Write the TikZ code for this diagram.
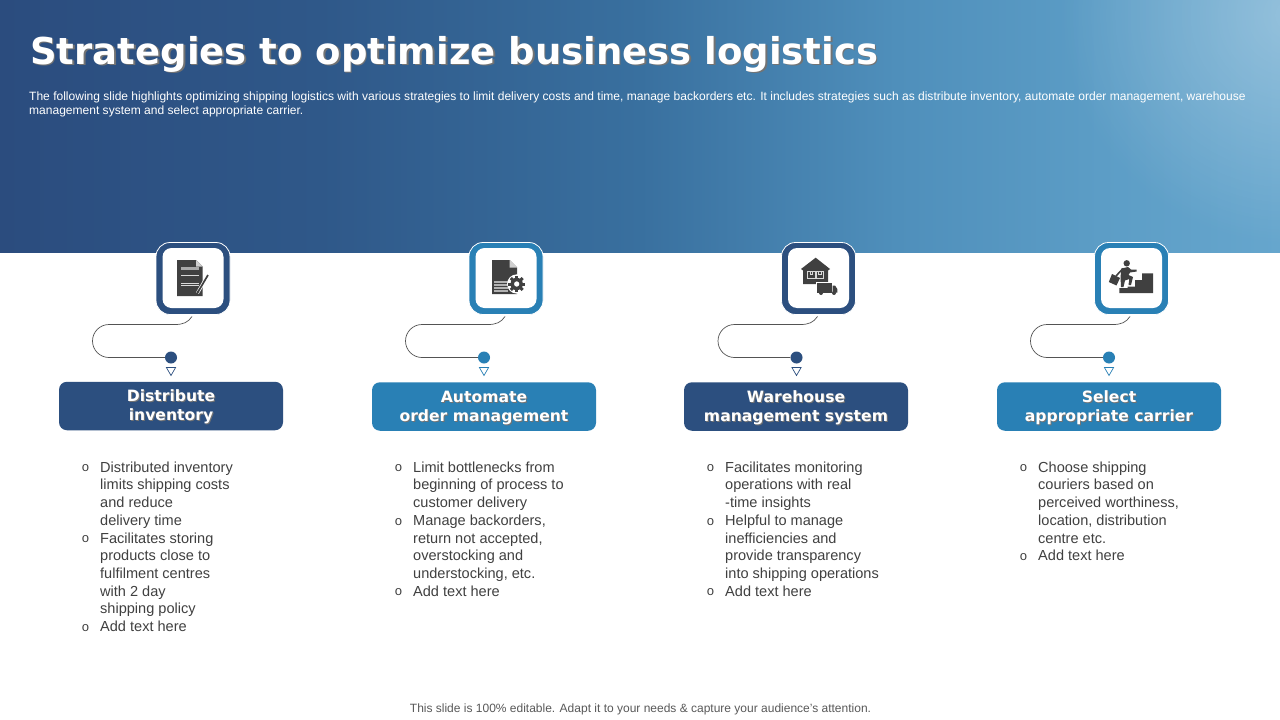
\documentclass[tikz,border=0pt]{standalone}
\usepackage{fontspec}
\setmainfont{Liberation Sans}
\newfontfamily\headfont{DejaVu Sans}[BoldFont={DejaVu Sans Bold}]
\newfontfamily\monofnt{Liberation Mono}
\usetikzlibrary{fadings,calc}
\definecolor{navy}{HTML}{2C4F7F}
\definecolor{teal}{HTML}{2980B5}
\definecolor{ink}{HTML}{404040}
\definecolor{bodytext}{HTML}{404040}
\definecolor{foot}{HTML}{595959}
\definecolor{hA}{HTML}{2B4C7E}
\definecolor{hB}{HTML}{2F5889}
\definecolor{hC}{HTML}{39709F}
\definecolor{hD}{HTML}{4F8FBB}
\definecolor{hE}{HTML}{5C9DC6}
\definecolor{hF}{HTML}{66A6CD}
\pgfdeclarehorizontalshading{hdrshade}{100bp}{
 color(0bp)=(hA); color(25bp)=(hA); color(37.5bp)=(hB); color(50bp)=(hC);
 color(60bp)=(hD); color(68bp)=(hE); color(75bp)=(hF); color(100bp)=(hF)}
\tikzfading[name=glowfade, inner color=transparent!70, outer color=transparent!100]
\newcommand\shtext[2]{\leavevmode\rlap{\kern#1\raisebox{-#1}{\color{black!55}\smash{#2}}}#2}
\newcommand\cardtwo[2]{\rule{0pt}{15pt}\shtext{1pt}{#1}\\\shtext{1pt}{#2}\rule[-4.4pt]{0pt}{0pt}}
\newcommand\bl{\leavevmode\llap{\makebox[18.6pt][l]{\raisebox{.3pt}{\monofnt\fontsize{13}{13}\selectfont o}}}}
\tikzset{
 x=1pt,y=-1pt,
 tile/.style={draw=white,line width=.8pt,rounded corners=14pt,minimum width=74pt,minimum height=72pt,inner sep=0pt},
 tilein/.style={fill=white,rounded corners=9pt,minimum width=61pt,minimum height=60pt,inner sep=0pt},
 card/.style={rounded corners=8pt,minimum width=224pt,minimum height=48.5pt,inner sep=0pt,text=white,align=center,
   font=\headfont\bfseries\fontsize{15.6}{19.3}\selectfont},
 dotn/.style={circle,minimum size=12pt,inner sep=0pt},
 wire/.style={draw=ink!90,line width=.7pt},
 bodyn/.style={anchor=north west,align=left,inner sep=0pt,text=bodytext,font=\fontsize{14.55}{17.7}\selectfont},
 iconf/.style={fill=ink,draw=none},
}
\begin{document}
\begin{tikzpicture}
\useasboundingbox (0,0) rectangle (1280,720);
\fill[white] (0,0) rectangle (1280,720);
\begin{scope}
\clip (0,0) rectangle (1280,252.7);
\shade[shading=hdrshade] (0,0) rectangle (1280,252.7);
\fill[white,path fading=glowfade] (1290,15) circle (230);
\end{scope}
\node[anchor=base west,inner sep=0pt,text=white,font=\headfont\bfseries\fontsize{37}{40}\selectfont] (title) at (30,64) {\shtext{1.6pt}{Strategies to optimize business logistics}};
\node[anchor=north west,inner sep=0pt,text=white,align=left,font=\fontsize{12.03}{14}\selectfont] (desc) at (29,92) {The following slide highlights optimizing shipping logistics with various strategies to limit delivery costs and time, manage backorders etc. It includes strategies such as distribute inventory, automate order management, warehouse\\management system and select appropriate carrier.};
%
\foreach \n/\tx/\dx/\colr in {a/193/171/navy,b/506/484/teal,c/818.5/796.5/navy,d/1131.5/1109/teal}{
  \node[tile,fill=\colr] (tile\n) at (\tx,278.5) {};
  \node[tilein] (inner\n) at (\tx,278) {};
  \node[dotn,fill=\colr] (dot\n) at (\dx,357.5) {};
  \coordinate (start\n) at ($(\dx,357.5)+(21,-41)$);
  \draw[wire] (start\n) .. controls ($(start\n)+(-4,6)$) and ($(start\n)+(-9,8)$) .. ($(start\n)+(-17,8)$)
     -- ($(start\n)+(-83,8)$) arc[start angle=-90,end angle=-270,radius=16.5]
     -- (dot\n);
  \coordinate (tc\n) at (\dx,367.5);
  \draw[\colr,fill=white,line width=.7pt] ($(tc\n)+(-4.6,0)$) -- ($(tc\n)+(4.6,0)$) -- ($(tc\n)+(0,8)$) -- cycle;
}
\node[card,fill=navy] (carda) at (171,406) {\cardtwo{Distribute}{inventory}};
\node[card,fill=teal] (cardb) at (484,406.5) {\cardtwo{Automate}{order management}};
\node[card,fill=navy] (cardc) at (796,406.5) {\cardtwo{Warehouse}{management system}};
\node[card,fill=teal] (cardd) at (1109,406.5) {\cardtwo{Select}{appropriate carrier}};
%
\node[bodyn] (lista) at (100,461.5) {\bl Distributed inventory\\limits shipping costs\\and reduce\\delivery time\\\bl Facilitates storing\\products close to\\fulfilment centres\\with 2 day\\shipping policy\\\bl Add text here};
\node[bodyn] (listb) at (413,461.5) {\bl Limit bottlenecks from\\beginning of process to\\customer delivery\\\bl Manage backorders,\\return not accepted,\\overstocking and\\understocking, etc.\\\bl Add text here};
\node[bodyn] (listc) at (725,461.5) {\bl Facilitates monitoring\\operations with real\\-time insights\\\bl Helpful to manage\\inefficiencies and\\provide transparency\\into shipping operations\\\bl Add text here};
\node[bodyn] (listd) at (1038,461.5) {\bl Choose shipping\\couriers based on\\perceived worthiness,\\location, distribution\\centre etc.\\\bl Add text here};
\node[inner sep=0pt,text=foot,font=\fontsize{12}{14}\selectfont] (footer) at (640.5,709.5) {This slide is 100\% editable. Adapt it to your needs \& capture your audience’s attention.};
%
% icon 1
\fill[iconf] (177,260) -- (196,260) -- (202.7,266.5) -- (202.7,296) -- (177,296) -- cycle;
\fill[white!75!ink] (196,260) -- (202.7,266.5) -- (196,266.5) -- cycle;
\fill[white!55!ink] (181,267) rectangle (199,270);
\foreach \yy in {275,283,285.5}{\draw[white!80!ink,line width=.6pt] (181,\yy) -- (199,\yy);}
\draw[white,line width=3.2pt] (208,275) -- (197.5,293);
\draw[ink,line width=1.7pt] (208,275) -- (198,292);
\fill[ink] (196.6,294.6) -- (197,290.5) -- (199.6,292) -- cycle;
% icon 2
\fill[iconf] (492,260) -- (509.5,260) -- (517,267.5) -- (517,294) -- (492,294) -- cycle;
\fill[white!75!ink] (509.5,260) -- (517,267.5) -- (509.5,267.5) -- cycle;
\foreach \yy in {282,285,288,291}{\draw[white!60!ink,line width=1.3pt] (494,\yy) -- (508,\yy);}
\fill[white] (516.7,284) circle (9.6);
\foreach \aa in {0,45,...,315}{\fill[ink,rotate around={\aa:(516.7,284)}] (515.2,275.6) rectangle (518.2,278.5);}
\fill[ink,even odd rule] (516.7,284) circle (6.2) (516.7,284) circle (2.8);
% icon 3
\fill[iconf] (815.7,257.7) -- (830,269) -- (828,270.5) -- (828,284) -- (803,284) -- (803,270.5) -- (801,269) -- cycle;
\draw[white!80!ink,line width=.6pt] (807,271.5) -- (807,278) -- (815,278) -- (815,271.5) -- cycle (816,271.5) -- (816,278) -- (823.5,278) -- (823.5,271.5) -- cycle (810,271.5) -- (810,274) -- (812,274) -- (812,271.5) (818.5,271.5) -- (818.5,274) -- (821,274) -- (821,271.5);
\fill[white] (815.5,281.5) rectangle (838,295.5);
\fill[iconf] (816.7,283) rectangle (832,292.5);
\fill[iconf] (832.6,285.5) -- (835,285.5) -- (837.3,289) -- (837.3,292.5) -- (832.6,292.5) -- cycle;
\fill[iconf] (821,293) circle (2) (834,293) circle (2);
% icon 4
\fill[iconf] (1119.3,293) -- (1119.3,288) -- (1127.7,288) -- (1127.7,286.7) -- (1135,286.7) -- (1135,280) -- (1142,280) -- (1142,273.3) -- (1153,273.3) -- (1153,293) -- cycle;
\fill[iconf] (1126.7,263.3) circle (3.2);
\fill[iconf] (1121.5,268.5) -- (1128,267) -- (1131,269.5) -- (1136.7,269.5) -- (1136.7,271.5) -- (1130,272.5) -- (1128.5,275) -- (1133,277) -- (1131,285) -- (1128.5,285) -- (1129.3,279) -- (1125,280.5) -- (1123.5,287) -- (1121,287) -- (1120.5,277) -- cycle;
\draw[ink,line width=1.6pt] (1123,268.5) -- (1116,276);
\fill[iconf] (1112,274) -- (1120,278) -- (1116.5,285.5) -- (1108.8,282) -- cycle;
\end{tikzpicture}
\end{document}
